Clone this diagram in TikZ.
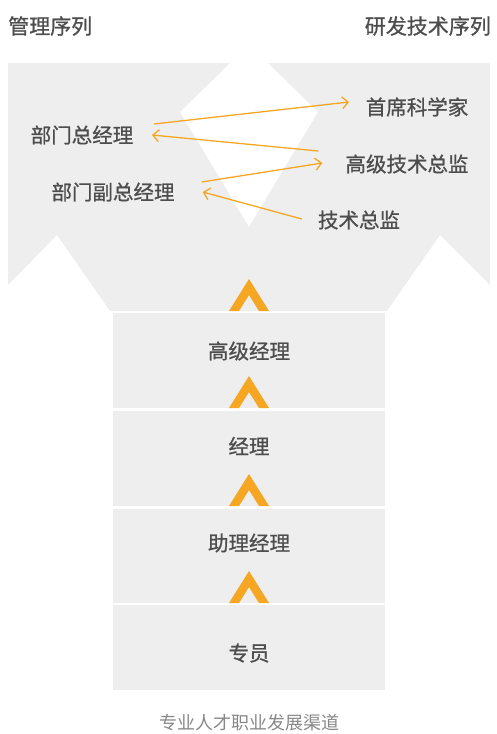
\documentclass[tikz,border=0pt]{standalone}
\usepackage{fontspec}
\setmainfont{Noto Sans CJK SC}
\newfontfamily\medfont{Noto Sans CJK SC}[FakeBold=0.9]
\usepackage{tikz}
\usetikzlibrary{arrows.meta}
\definecolor{bggray}{HTML}{EEEEEE}
\definecolor{txtgray}{HTML}{4D4D4D}
\definecolor{capgray}{HTML}{888888}
\definecolor{orng}{HTML}{F5A623}

\begin{document}
\begin{tikzpicture}
[x=1pt,y=-1pt,
seqtitle/.style={text=txtgray, inner sep=0pt, font=\medfont\fontsize{21}{25}\selectfont},
post/.style={text=txtgray, inner sep=0pt, font=\medfont\fontsize{20.5}{25}\selectfont},
lvlbox/.style={rectangle, fill=bggray, minimum width=272pt, inner sep=0pt},
chev/.style={fill=orng},
link/.style={draw=orng, line width=1.3pt, -{Straight Barb[length=6pt,width=12pt]}}
]
\useasboundingbox (0,0) rectangle (496,734);

%Background
\fill[bggray] (8,63) -- (230,63) -- (180,112) -- (249,227) -- (318,112) -- (268,63)
  -- (490,63) -- (490,285) -- (440,235) -- (387,311) -- (110,311) -- (57,235)
  -- (8,285) -- cycle;

%Boxes
\node[lvlbox, minimum height=95pt] (b1) at (249,360.5) {};
\node[lvlbox, minimum height=95pt] (b2) at (249,458.5) {};
\node[lvlbox, minimum height=94pt] (b3) at (249,556) {};
\node[lvlbox, minimum height=85pt] (b4) at (249,647.5) {};

%Chevrons
\foreach \y in {311,408,506,603}
  \fill[chev] (229,\y) -- (249,\y-32) -- (269,\y) -- (259,\y) -- (249,\y-16) -- (239,\y) -- cycle;

%Nodes
\node[seqtitle, anchor=west] (mgmt) at (8,26)   {管理序列};
\node[seqtitle, anchor=east] (tech) at (491,26) {研发技术序列};

\node[post] (zjl)   at (82,135)  {部门总经理};
\node[post] (fzjl)  at (113,192) {部门副总经理};
\node[post] (sxkxj) at (417,107) {首席科学家};
\node[post] (gjzj)  at (407,164) {高级技术总监};
\node[post] (jszj)  at (359,220) {技术总监};

\node[post] (l1) at (249,351) {高级经理};
\node[post] (l2) at (249,446) {经理};
\node[post] (l3) at (249,543) {助理经理};
\node[post] (l4) at (249,653) {专员};

\node[text=capgray, inner sep=0pt, font=\fontsize{18}{22}\selectfont] (cap) at (249,723) {专业人才职业发展渠道};

%Lines
\draw[link] ([shift={(20.5,-11)}]zjl.east) -- ([shift={(-16.5,-5)}]sxkxj.west);
\draw[link] ([shift={(-27,-13)}]gjzj.west) -- ([shift={(18.5,0)}]zjl.east);
\draw[link] ([shift={(27,-10)}]fzjl.east) -- ([shift={(-23,-1)}]gjzj.west);
\draw[link] ([shift={(-16,-1)}]jszj.west) -- ([shift={(28,0)}]fzjl.east);
\end{tikzpicture}
\end{document}
